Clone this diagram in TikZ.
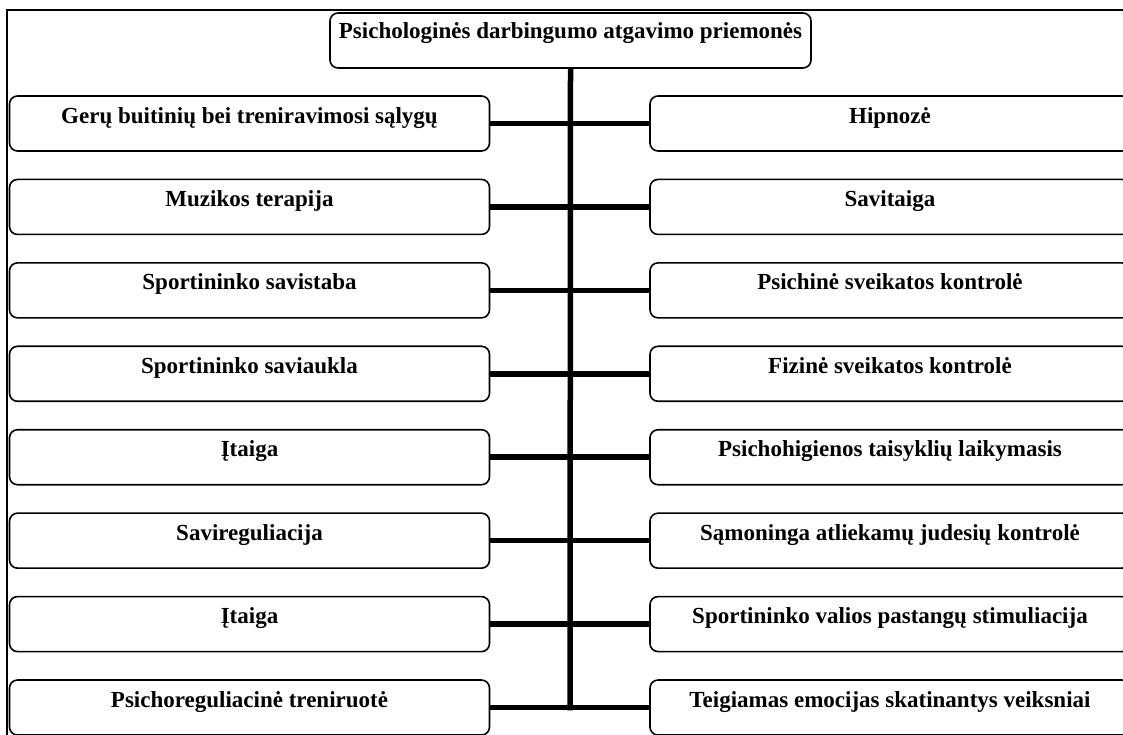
\documentclass[tikz,border=0pt]{standalone}
\usepackage{fontspec}
\setmainfont{Liberation Serif}
\begin{document}
\begin{tikzpicture}[x=1pt,y=-1pt,
  item/.style={draw, line width=1.6pt, rounded corners=8pt, inner sep=0pt,
    minimum width=480pt, text height=27pt, text depth=28pt,
    font=\fontsize{23}{27}\selectfont\bfseries},
  link/.style={line width=5.5pt}]
\useasboundingbox (0,0) rectangle (1123,734);
\clip (0,0) rectangle (1123,734);
% page frame
\draw[line width=1.6pt] (7,760) -- (7,10) -- (1140,10);
% heading box
\node[item, minimum width=481pt, text height=25pt, text depth=30pt] (head) at (570.5,40.5)
  {Psichologinės darbingumo atgavimo priemonės};
% the two columns of means
\foreach \ltext/\rtext [count=\i from 0] in {
  Gerų buitinių bei treniravimosi sąlygų/Hipnozė,
  Muzikos terapija/Savitaiga,
  Sportininko savistaba/Psichinė sveikatos kontrolė,
  Sportininko saviaukla/Fizinė sveikatos kontrolė,
  Įtaiga/Psichohigienos taisyklių laikymasis,
  Savireguliacija/Sąmoninga atliekamų judesių kontrolė,
  Įtaiga/Sportininko valios pastangų stimuliacija,
  Psichoreguliacinė treniruotė/Teigiamas emocijas skatinantys veiksniai}{
  \node[item] (L\i) at (249.5,{123.5+83.43*\i}) {\ltext};
  \node[item] (R\i) at (890,{123.5+83.43*\i}) {\rtext};
  \draw[link] (L\i.east) -- (R\i.west);
}
% central spine
\coordinate (spineend) at (570,{123.5+83.43*7});
\draw[link, shorten >=-2.75pt] (head.south) -- (spineend);
\end{tikzpicture}
\end{document}
